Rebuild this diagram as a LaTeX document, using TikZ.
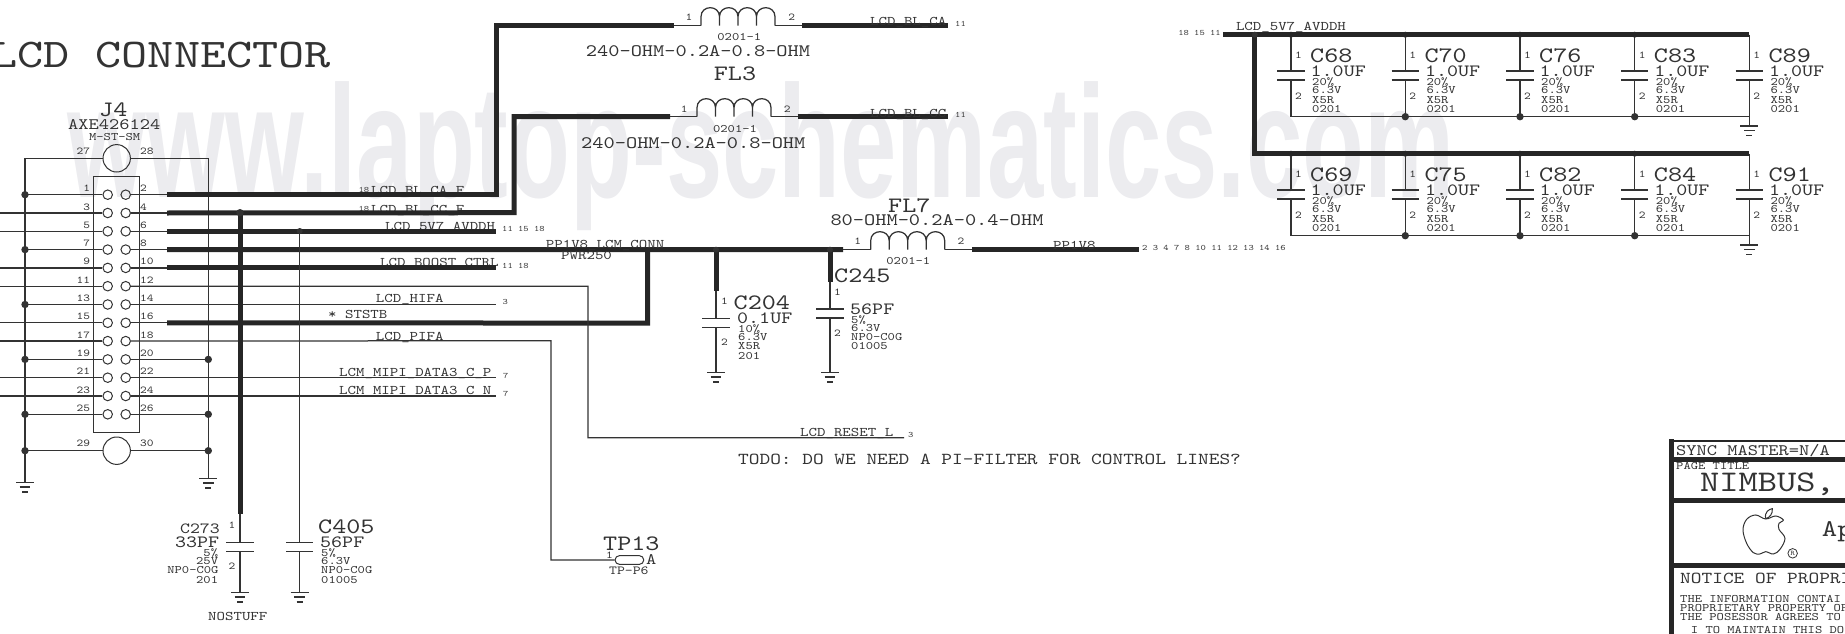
\documentclass[tikz,border=0pt]{standalone}
\usepackage{fontspec}
\usepackage{graphicx}
\newfontfamily\schfont{lmmono10-regular}[Extension=.otf,FakeStretch=1.22]
\newfontfamily\markfont{Liberation Sans}
\usetikzlibrary{positioning,shapes.misc}
\definecolor{ink}{HTML}{333333}
\definecolor{markgray}{HTML}{ECECEF}
\tikzset{
	lab/.style={font=\schfont\fontsize{#1}{#1}\selectfont,text=ink,inner sep=0pt},
	tinylab/.style={lab=8.3},
	pinlab/.style={lab=10.5},
	smalllab/.style={lab=11.4},
	netlab/.style={lab=13.2},
	vallab/.style={lab=17.2},
	reflab/.style={lab=22},
	wire/.style={draw=ink,line width=1.25pt},
	bus/.style={draw=black!85,line width=5pt},
	plate/.style={draw=ink,line width=1.5pt},
	dot/.style={circle,fill=ink,inner sep=0pt,minimum size=7.4pt},
	sdot/.style={circle,fill=ink,inner sep=0pt,minimum size=6pt},
	hole/.style={circle,draw=ink,line width=1pt,inner sep=0pt,minimum size=9.5pt},
	bighole/.style={circle,draw=ink,line width=1pt,inner sep=0pt,minimum size=27.4pt},
	coil/.pic={
		\draw[wire] (0,0) -- (0,-9) .. controls (0,-21) and (18.5,-21) .. (18.5,-9) -- (18.5,0)
			(18.5,-9) .. controls (18.5,-21) and (37,-21) .. (37,-9) -- (37,0)
			(37,-9) .. controls (37,-21) and (55.5,-21) .. (55.5,-9) -- (55.5,0)
			(55.5,-9) .. controls (55.5,-21) and (74,-21) .. (74,-9) -- (74,0);
		\coordinate (-w) at (0,0);
		\coordinate (-e) at (74,0);
	},
	capsym/.pic={
		\draw[plate] (-13.7,0) -- (13.7,0) (-13.7,9) -- (13.7,9);
		\coordinate (-t) at (0,0);
		\coordinate (-b) at (0,9);
	},
	gnd/.pic={
		\draw[plate] (-9,0) -- (9,0) (-5.3,4.5) -- (5.3,4.5) (-3,9.5) -- (3,9.5);
	},
}

\begin{document}
\begin{tikzpicture}[x=1pt,y=-1pt]
	\useasboundingbox (0,0) rectangle (1845,634);
	\clip (0,0) rectangle (1845,634);
	\node[anchor=base,text=markgray,inner sep=0pt,font=\markfont\bfseries\fontsize{160}{160}\selectfont] (watermark) at (761,197) {\scalebox{0.633}[1]{www.laptop-schematics.com}};

	\node[lab=40.8,anchor=west] (title) at (-9,55) {LCD CONNECTOR};
	\node[reflab] (j4) at (113.3,110) {J4};
	\node[lab=16,anchor=center] (j4part) at (114.3,125) {AXE426124};
	\node[smalllab] (j4foot) at (114.7,136.7) {M-ST-SM};

	\node[bighole] (m27) at (116.7,158.3) {};
	\node[bighole] (m29) at (116.7,450.7) {};
	\node[pinlab,anchor=east] (n27) at (90.3,151.7) {27};
	\node[pinlab,anchor=west] (n28) at (140,151.7) {28};
	\node[pinlab,anchor=east] (n29) at (90.3,443.7) {29};
	\node[pinlab,anchor=west] (n30) at (140,443.7) {30};
	\node[draw=ink,line width=0.9pt,minimum width=46pt,minimum height=256.3pt,inner sep=0pt] (j4box) at (116.7,304.2) {};

	\coordinate (topl) at (25,158.3);
	\coordinate (topr) at (208.3,158.3);
	\coordinate (gndl) at (25,482.7);
	\coordinate (gndr) at (208.3,478.3);
	\coordinate (busl29) at (25,450.7);
	\coordinate (busr30) at (208.3,450.7);
	\foreach \k in {0,...,12} {
		\pgfmathsetmacro\ry{194.7+18.3*\k}
		\pgfmathsetmacro\ly{\ry-6.2}
		\pgfmathtruncatemacro\a{2*\k+1}
		\pgfmathtruncatemacro\b{2*\k+2}
		\node[hole] (p\a) at (107.7,\ry) {};
		\node[hole] (p\b) at (125.7,\ry) {};
		\node[pinlab,anchor=east] (n\a) at (90.3,\ly) {\a};
		\node[pinlab,anchor=west] (n\b) at (140,\ly) {\b};
		\coordinate (busl\a) at (25,\ry);
		\coordinate (edge\a) at (-2,\ry);
		\coordinate (busr\b) at (208.3,\ry);
		\coordinate (start\b) at (167,\ry);
		\coordinate (end\b) at (496,\ry);
	}

	\draw[wire] (m27) -- (topl) -- (gndl);
	\draw[wire] (m27) -- (topr) -- (gndr);
	\draw[wire] (m29) -- (busl29);
	\draw[wire] (m29) -- (busr30);
	\pic at (gndl) {gnd};
	\pic at (gndr) {gnd};
	\foreach \a in {1,7,13,19,25} {
		\draw[wire] (p\a) -- (busl\a);
		\node[dot] (dl\a) at (busl\a) {};
	}
	\foreach \a in {3,5,9,11,15,17,21,23} {
		\draw[wire] (p\a) -- (edge\a);
	}
	\foreach \b in {20,26} {
		\draw[wire] (p\b) -- (busr\b);
		\node[dot] (dr\b) at (busr\b) {};
	}
	\node[dot] (dl29) at (busl29) {};
	\node[dot] (dr30) at (busr30) {};
	\foreach \b in {2,4,6,8,10,16} {
		\draw[wire] (p\b) -- (start\b);
	}
	\foreach \b in {14,22,24} {
		\draw[wire] (p\b) -- (end\b);
	}

	\node[tinylab,anchor=east] (x18a) at (369.5,190.3) {18};
	\node[tinylab,anchor=east] (x18b) at (369.5,209) {18};
	\node[netlab,anchor=west] (nbca) at (371,191.5) {LCD\_BL\_CA\_F};
	\node[netlab,anchor=west] (nbcc) at (371,210.7) {LCD\_BL\_CC\_F};
	\node[netlab,anchor=west] (n5v7) at (385,227) {LCD\_5V7\_AVDDH};
	\node[tinylab,anchor=west] (x5v7) at (502,228.7) {11 15 18};
	\node[netlab,anchor=west] (nboost) at (380,263.7) {LCD\_BOOST\_CTRL};
	\node[tinylab,anchor=west] (xboost) at (502,265.7) {11 18};
	\node[netlab,anchor=west] (nhifa) at (375.7,299.3) {LCD\_HIFA};
	\node[tinylab,anchor=west] (xhifa) at (502.3,301.7) {3};
	\node[netlab,anchor=west] (nstb) at (328,314.3) {* STSTB};
	\node[netlab,anchor=west] (npifa) at (375.7,337.7) {LCD\_PIFA};
	\node[netlab,anchor=west] (nmp) at (339,373.2) {LCM\_MIPI\_DATA3\_C\_P};
	\node[tinylab,anchor=west] (xmp) at (503,376) {7};
	\node[netlab,anchor=west] (nmn) at (339,391.4) {LCM\_MIPI\_DATA3\_C\_N};
	\node[tinylab,anchor=west] (xmn) at (503,394) {7};

	\coordinate (ca1) at (496,25.7);
	\coordinate (ca2) at (674,25.7);
	\coordinate (ca3) at (802,25.7);
	\coordinate (ca4) at (948,25.7);
	\pic (fla) at (701,25.7) {coil};
	\draw[bus] (start2) -- (end2) -- (ca1) -- (ca2);
	\draw[wire] (ca2) -- (fla-w);
	\draw[wire] (fla-e) -- (ca3);
	\draw[bus] (ca3) -- (ca4);
	\node[pinlab] (ca1n) at (689,17.7) {1};
	\node[pinlab] (ca2n) at (791.7,17.7) {2};
	\node[smalllab] (cafoot) at (739.3,36.7) {0201-1};
	\node[lab=17.5] (caval) at (698,51) {240-OHM-0.2A-0.8-OHM};
	\node[netlab,anchor=west] (caname) at (870,22.5) {LCD\_BL\_CA};
	\node[tinylab,anchor=west] (caxr) at (955,23.7) {11};

	\coordinate (cc0) at (514,212.7);
	\coordinate (cc1) at (514,116.7);
	\coordinate (cc2) at (670,116.7);
	\coordinate (cc3) at (797.7,116.7);
	\coordinate (cc4) at (948,116.7);
	\pic (flb) at (697,116.7) {coil};
	\draw[bus] (start4) -- (cc0) -- (cc1) -- (cc2);
	\draw[wire] (cc2) -- (flb-w);
	\draw[wire] (flb-e) -- (cc3);
	\draw[bus] (cc3) -- (cc4);
	\node[reflab] (fl3) at (735,74) {FL3};
	\node[pinlab] (cc1n) at (684.3,109) {1};
	\node[pinlab] (cc2n) at (787.3,109) {2};
	\node[smalllab] (ccfoot) at (735,128.7) {0201-1};
	\node[lab=17.5] (ccval) at (693.3,143.3) {240-OHM-0.2A-0.8-OHM};
	\node[netlab,anchor=west] (ccname) at (870,114.2) {LCD\_BL\_CC};
	\node[tinylab,anchor=west] (ccxr) at (955,114.7) {11};

	\draw[bus] (start6) -- (end6);
	\draw[bus] (start10) -- (end10);

	\coordinate (pp1) at (843,249.7);
	\coordinate (pp2) at (972,249.7);
	\coordinate (pp3) at (1139,249.7);
	\coordinate (pp4) at (647.5,249.7);
	\coordinate (pp5) at (647.5,323.1);
	\pic (flc) at (870.7,249.7) {coil};
	\draw[bus] (start8) -- (pp1);
	\draw[wire] (pp1) -- (flc-w);
	\draw[wire] (flc-e) -- (pp2);
	\draw[bus] (pp2) -- (pp3);
	\draw[bus] (start16) -- (pp5) -- (pp4);
	\node[reflab] (fl7) at (909.3,205.7) {FL7};
	\node[lab=17.5] (ppval) at (937,220) {80-OHM-0.2A-0.4-OHM};
	\node[pinlab] (pp1n) at (857.7,241.7) {1};
	\node[pinlab] (pp2n) at (961,241.7) {2};
	\node[smalllab] (ppfoot) at (908.3,260.7) {0201-1};
	\node[netlab,anchor=west] (ppconn) at (545.7,245) {PP1V8\_LCM\_CONN};
	\node[netlab,anchor=west] (ppwr) at (561,255.3) {PWR250};
	\node[netlab,anchor=west] (ppname) at (1053,245) {PP1V8};
	\node[tinylab,anchor=west] (ppxr) at (1142,247.7) {2 3 4 7 8 10 11 12 13 14 16};

	\coordinate (hifa1) at (588,286.3);
	\coordinate (hifa2) at (588,437.7);
	\coordinate (hifa3) at (904,437.7);
	\draw[wire] (p12) -- (hifa1) -- (hifa2) -- (hifa3);
	\node[netlab,anchor=west] (nreset) at (800,433.5) {LCD\_RESET\_L};
	\node[tinylab,anchor=west] (xreset) at (908,434.5) {3};
	\node[lab=16.7,anchor=west] (todo) at (738,459.3) {TODO: DO WE NEED A PI-FILTER FOR CONTROL LINES?};

	\coordinate (pifa1) at (551,340.7);
	\coordinate (pifa2) at (551,560);
	\node[rounded rectangle,draw=ink,line width=1pt,minimum width=28.7pt,minimum height=8.7pt,inner sep=0pt] (tp13) at (629.4,560) {};
	\draw[wire] (p18) -- (pifa1) -- (pifa2) -- (tp13);
	\node[lab=22,anchor=west] (tpref) at (603,544) {TP13};
	\node[pinlab] (tp1) at (609.6,555.7) {1};
	\node[lab=16,anchor=west] (tpa) at (646,559.3) {A};
	\node[lab=12.3,anchor=west] (tpfoot) at (609,570.7) {TP-P6};

	\coordinate (ca273) at (240,212.7);
	\coordinate (cb273) at (240,514);
	\coordinate (cg273) at (240,592.3);
	\pic (c273) at (240,542.3) {capsym};
	\draw[bus] (ca273) -- (cb273);
	\draw[wire] (cb273) -- (c273-t);
	\draw[wire] (c273-b) -- (cg273);
	\pic at (cg273) {gnd};
	\node[dot] (d273) at (ca273) {};
	\node[lab=15.5,anchor=east] (r273) at (220,528.7) {C273};
	\node[vallab,anchor=east] (v273) at (219.3,542.3) {33PF};
	\node[smalllab,anchor=east] (a273) at (218.3,552.7) {5\%};
	\node[smalllab,anchor=east] (b273) at (218.3,560.7) {25V};
	\node[smalllab,anchor=east] (e273) at (218.7,570) {NP0-C0G};
	\node[smalllab,anchor=east] (f273) at (218.3,580) {201};
	\node[pinlab] (o273) at (232,525) {1};
	\node[pinlab] (t273) at (232,566.7) {2};
	\node[netlab,anchor=west] (nostuff) at (208,616.3) {NOSTUFF};

	\coordinate (ca405) at (299.7,231);
	\coordinate (cg405) at (299.7,592.3);
	\pic (c405) at (299.7,542.3) {capsym};
	\draw[wire] (ca405) -- (c405-t);
	\draw[wire] (c405-b) -- (cg405);
	\pic at (cg405) {gnd};
	\node[sdot] (d405) at (ca405) {};
	\node[reflab,anchor=west] (r405) at (318,526.7) {C405};
	\node[vallab,anchor=west] (v405) at (320,542.3) {56PF};
	\node[smalllab,anchor=west] (a405) at (321,552.7) {5\%};
	\node[smalllab,anchor=west] (b405) at (321,560.7) {6.3V};
	\node[smalllab,anchor=west] (e405) at (321,570) {NP0-C0G};
	\node[smalllab,anchor=west] (f405) at (321,580) {01005};

	\coordinate (ca204) at (716,249.7);
	\coordinate (cb204) at (716,290.7);
	\coordinate (cg204) at (716,372.7);
	\pic (c204) at (716,318.3) {capsym};
	\draw[bus] (ca204) -- (cb204);
	\draw[wire] (cb204) -- (c204-t);
	\draw[wire] (c204-b) -- (cg204);
	\pic at (cg204) {gnd};
	\node[sdot] (d204) at (ca204) {};
	\node[pinlab] (o204) at (724.5,301) {1};
	\node[pinlab] (t204) at (724.5,342.7) {2};
	\node[reflab,anchor=west] (r204) at (733.5,302.7) {C204};
	\node[vallab,anchor=west] (v204) at (737,318.3) {0.1UF};
	\node[smalllab,anchor=west] (a204) at (738,328.7) {10\%};
	\node[smalllab,anchor=west] (b204) at (738,337) {6.3V};
	\node[smalllab,anchor=west] (e204) at (738,346) {X5R};
	\node[smalllab,anchor=west] (f204) at (738,356) {201};

	\coordinate (ca245) at (830,249.7);
	\coordinate (cb245) at (830,281.7);
	\coordinate (cg245) at (830,372.7);
	\pic (c245) at (830,309) {capsym};
	\draw[bus] (ca245) -- (cb245);
	\draw[wire] (cb245) -- (c245-t);
	\draw[wire] (c245-b) -- (cg245);
	\pic at (cg245) {gnd};
	\node[sdot] (d245) at (ca245) {};
	\node[pinlab] (o245) at (837.5,292) {1};
	\node[pinlab] (t245) at (837.5,333.3) {2};
	\node[reflab,anchor=west] (r245) at (834,275.7) {C245};
	\node[vallab,anchor=west] (v245) at (850,309.3) {56PF};
	\node[smalllab,anchor=west] (a245) at (851,320) {5\%};
	\node[smalllab,anchor=west] (b245) at (851,328) {6.3V};
	\node[smalllab,anchor=west] (e245) at (851,337) {NP0-C0G};
	\node[smalllab,anchor=west] (f245) at (851,346) {01005};

	\node[netlab,anchor=west] (avname) at (1235.8,27.7) {LCD\_5V7\_AVDDH};
	\node[tinylab,anchor=east] (avxr) at (1221,32.7) {18 15 11};
	\coordinate (avdd) at (1222.8,34.7);
	\coordinate (avj) at (1254.8,34.7);
	\coordinate (avk) at (1254.8,153.7);
	\coordinate (gnda) at (1749.4,126);
	\coordinate (gndb) at (1749.4,245);
	\foreach \cu/\cd/\x [count=\i] in {C68/C69/1291,C70/C75/1405.3,C76/C82/1520,C83/C84/1634.7,C89/C91/1749.4} {
		\foreach \cname/\dy in {\cu/0,\cd/119} {
			\coordinate (rail\cname) at (\x,34.7+\dy);
			\coordinate (base\cname) at (\x,116.7+\dy);
			\pic (sym\cname) at (\x,71+\dy) {capsym};
			\draw[wire] (rail\cname) -- (sym\cname-t);
			\draw[wire] (sym\cname-b) -- (base\cname);
			\node[pinlab] (one\cname) at (\x+7.4,55+\dy) {1};
			\node[pinlab] (two\cname) at (\x+7.4,96+\dy) {2};
			\node[reflab,anchor=west] (ref\cname) at (\x+19,55.7+\dy) {\cname};
			\node[vallab,anchor=west] (val\cname) at (\x+19.5,71+\dy) {1.0UF};
			\node[smalllab,anchor=west] (pct\cname) at (\x+21,81.7+\dy) {20\%};
			\node[smalllab,anchor=west] (vlt\cname) at (\x+21,90+\dy) {6.3V};
			\node[smalllab,anchor=west] (die\cname) at (\x+21,99.7+\dy) {X5R};
			\node[smalllab,anchor=west] (siz\cname) at (\x+21,109+\dy) {0201};
			\ifnum\i<5
				\node[sdot] (dt\cname) at (rail\cname) {};
			\fi
			\ifnum\i>1 \ifnum\i<5
				\node[dot] (db\cname) at (base\cname) {};
			\fi\fi
		}
	}
	\draw[bus] (avdd) -- (railC89);
	\draw[bus] (avj) -- (avk) -- (railC91);
	\node[sdot] (davj) at (avj) {};
	\draw[wire] (baseC68) -- (baseC89) -- (gnda);
	\draw[wire] (baseC69) -- (baseC91) -- (gndb);
	\pic at (gnda) {gnd};
	\pic at (gndb) {gnd};

	\draw[line width=2.5pt,draw=black!85] (1671.5,441) -- (1846,441);
	\draw[bus] (1671.5,439) -- (1671.5,636);
	\draw[bus] (1671.5,459.3) -- (1846,459.3);
	\draw[bus] (1671.5,500.7) -- (1846,500.7);
	\draw[bus] (1671.5,565) -- (1846,565);
	\node[lab=16,anchor=west] (sync) at (1676,450.7) {SYNC MASTER=N/A};
	\node[smalllab,anchor=west] (pagetitle) at (1676,465.7) {PAGE TITLE};
	\node[lab=30,anchor=west] (pagename) at (1700,484.5) {NIMBUS,};
	\node[lab=24,anchor=west] (appleinc) at (1821.7,531.7) {Ap};
	\node[lab=16.7,anchor=west] (notice) at (1680,578.3) {NOTICE OF PROPRI};
	\node[smalllab,anchor=west] (nl1) at (1680,598.7) {THE INFORMATION CONTAI};
	\node[smalllab,anchor=west] (nl2) at (1680,607.7) {PROPRIETARY PROPERTY OF};
	\node[smalllab,anchor=west] (nl3) at (1680,616.7) {THE POSESSOR AGREES TO};
	\node[smalllab,anchor=west] (nl4) at (1690.7,630) {I TO MAINTAIN THIS DO};
	\begin{scope}[shift={(1645,430)},x=0.3333pt,y=-0.3333pt]
		\draw[ink,line width=1pt] plot[smooth cycle,tension=0.6] coordinates {(362,267) (332,255) (305,268) (294,300) (305,340) (325,368) (345,372) (362,365) (385,372) (405,358) (420,325) (402,298) (402,280) (415,270) (392,258)};
		\draw[ink,line width=1pt] (362,266) .. controls (358,245) and (372,238) .. (382,236) .. controls (384,250) and (374,264) .. (362,266);
		\node[circle,draw=ink,line width=0.8pt,inner sep=0pt,minimum size=9.5pt] (regmark) at (443,370) {};
		\node[lab=7,anchor=center] (regr) at (443,370) {R};
	\end{scope}
\end{tikzpicture}
\end{document}
